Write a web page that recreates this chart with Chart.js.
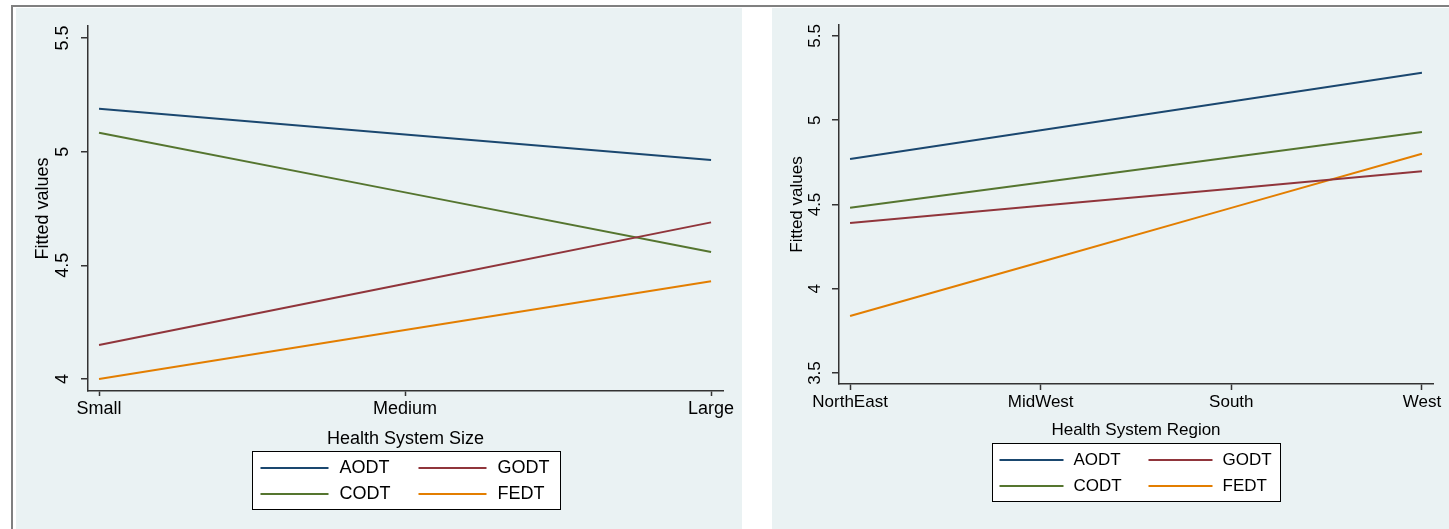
<!DOCTYPE html>
<html>
<head>
<meta charset="utf-8">
<title>Fitted values by health system size and region</title>
<script src="https://cdn.jsdelivr.net/npm/chart.js@4/dist/chart.umd.min.js"></script>
<style>
  html, body { margin: 0; padding: 0; background: #fff; }
  body { width: 1449px; height: 529px; position: relative; overflow: hidden; font-family: 'Liberation Sans', Arial, sans-serif; }
  .frame-top { position: absolute; left: 11px; top: 5px; width: 1438px; height: 2px; background: #808080; }
  .frame-left { position: absolute; left: 11px; top: 5px; width: 2px; height: 524px; background: #808080; }
  .panel { position: absolute; top: 8px; height: 521px; background: #eaf2f3; }
  #sizePanel { left: 16px; width: 726px; }
  #regionPanel { left: 772px; width: 677px; }
  canvas { display: block; }
</style>
</head>
<body>
<div class="frame-top"></div>
<div class="frame-left"></div>
<div class="panel" id="sizePanel"><canvas id="sizeChart" width="726" height="521"></canvas></div>
<div class="panel" id="regionPanel"><canvas id="regionChart" width="677" height="521"></canvas></div>

<script>
// series, in legend order (row by row)
const seriesNames = ['AODT', 'GODT', 'CODT', 'FEDT'];
const seriesColors = ['#1a476f', '#90353b', '#55752f', '#e37e00'];

// left panel: fitted values by system size
const sizeCategories = ['Small', 'Medium', 'Large'];
const sizeAODT = [5.189, 5.076, 4.963];
const sizeGODT = [4.149, 4.419, 4.689];
const sizeCODT = [5.083, 4.821, 4.559];
const sizeFEDT = [4.000, 4.215, 4.430];
const sizeYTicks = [4, 4.5, 5, 5.5];

// right panel: fitted values by system region
const regionCategories = ['NorthEast', 'MidWest', 'South', 'West'];
const regionAODT = [4.770, 4.941, 5.111, 5.282];
const regionGODT = [4.390, 4.492, 4.594, 4.697];
const regionCODT = [4.481, 4.631, 4.780, 4.930];
const regionFEDT = [3.838, 4.159, 4.480, 4.801];
const regionYTicks = [3.5, 4, 4.5, 5, 5.5];

const AXIS = '#333333';
const GRID = '#eaf2f3';

// stata-style boxed legend, two columns
const boxLegend = {
  id: 'boxLegend',
  afterDraw(chart, args, o) {
    const ctx = chart.ctx;
    const area = chart.chartArea;
    const left = Math.round((area.left + area.right) / 2 - o.width / 2) + 0.5;
    const top = Math.round(area.bottom + o.offsetTop) + 0.5;
    ctx.save();
    ctx.fillStyle = '#fff';
    ctx.fillRect(left, top, o.width, o.height);
    ctx.strokeStyle = '#000';
    ctx.lineWidth = 1;
    ctx.strokeRect(left, top, o.width, o.height);
    ctx.font = o.fontSize + "px 'Liberation Sans', Arial, sans-serif";
    ctx.textBaseline = 'middle';
    ctx.fillStyle = '#000';
    chart.data.datasets.forEach((ds, i) => {
      const col = i % 2;
      const row = Math.floor(i / 2);
      const x0 = left + o.pad + col * o.colStep;
      const y = Math.round(top + o.rows[row]);
      ctx.strokeStyle = ds.borderColor;
      ctx.lineWidth = 2;
      ctx.beginPath();
      ctx.moveTo(x0, y);
      ctx.lineTo(x0 + o.lineLen, y);
      ctx.stroke();
      ctx.fillText(ds.label, x0 + o.lineLen + o.gap, y);
    });
    ctx.restore();
  }
};

function makeDatasets(values) {
  return values.map((vals, i) => ({
    label: seriesNames[i],
    data: vals.map((v, k) => ({ x: k, y: v })),
    borderColor: seriesColors[i],
    borderWidth: 2,
    pointRadius: 0,
    fill: false,
    tension: 0
  }));
}

function buildChart(id, cfg) {
  const font = { family: "'Liberation Sans', Arial, sans-serif", size: cfg.fontSize };
  return new Chart(document.getElementById(id), {
    type: 'line',
    data: { datasets: makeDatasets(cfg.values) },
    plugins: [boxLegend],
    options: {
      responsive: false,
      animation: false,
      layout: { padding: { top: cfg.padTop, right: cfg.padRight, left: 0, bottom: 0 } },
      plugins: {
        legend: { display: false },
        tooltip: { enabled: false },
        boxLegend: cfg.legend
      },
      scales: {
        x: {
          type: 'linear',
          min: cfg.xMin,
          max: cfg.xMax,
          afterBuildTicks: s => { s.ticks = cfg.categories.map((c, i) => ({ value: i })); },
          afterFit: s => { s.height = cfg.xHeight; },
          grid: { drawOnChartArea: false, tickLength: cfg.xTickLen, tickColor: AXIS, tickWidth: 1.5 },
          border: { display: true, color: AXIS, width: 1.5 },
          ticks: {
            color: '#000',
            font: font,
            padding: 2,
            maxRotation: 0,
            minRotation: 0,
            callback: v => cfg.categories[v]
          },
          title: {
            display: true,
            text: cfg.xTitle,
            color: '#000',
            font: font,
            padding: { top: 0, bottom: cfg.xTitlePad }
          }
        },
        y: {
          type: 'linear',
          min: cfg.yMin,
          max: cfg.yMax,
          afterBuildTicks: s => { s.ticks = cfg.yTicks.map(v => ({ value: v })); },
          afterFit: s => { s.width = cfg.yWidth; },
          grid: { color: GRID, lineWidth: 1.5, tickLength: 7, tickColor: AXIS, tickWidth: 1.5 },
          border: { display: true, color: AXIS, width: 1.5 },
          ticks: {
            color: '#000',
            font: font,
            padding: cfg.yTickPad,
            minRotation: 90,
            maxRotation: 90,
            crossAlign: 'center',
            callback: v => String(v)
          },
          title: {
            display: true,
            text: 'Fitted values',
            color: '#000',
            font: font,
            padding: { top: cfg.yTitlePad, bottom: 0 }
          }
        }
      }
    }
  });
}

buildChart('sizeChart', {
  categories: sizeCategories,
  values: [sizeAODT, sizeGODT, sizeCODT, sizeFEDT],
  yTicks: sizeYTicks,
  xTitle: 'Health System Size',
  fontSize: 18,
  xMin: -0.036, xMax: 2.039,
  yMin: 3.947, yMax: 5.553,
  padTop: 18, padRight: 19,
  yWidth: 72, xHeight: 138,
  xTickLen: 5,
  yTickPad: 5.5, yTitlePad: 16,
  xTitlePad: 79,
  legend: {
    offsetTop: 60, width: 308, height: 58, rows: [16, 42],
    pad: 8, lineLen: 68, gap: 11, colStep: 158, fontSize: 18
  }
});

buildChart('regionChart', {
  categories: regionCategories,
  values: [regionAODT, regionGODT, regionCODT, regionFEDT],
  yTicks: regionYTicks,
  xTitle: 'Health System Region',
  fontSize: 17,
  xMin: -0.058, xMax: 3.058,
  yMin: 3.435, yMax: 5.565,
  padTop: 17, padRight: 16,
  yWidth: 67, xHeight: 145,
  xTickLen: 6,
  yTickPad: 5, yTitlePad: 15,
  xTitlePad: 88,
  legend: {
    offsetTop: 59, width: 288, height: 58, rows: [16, 42],
    pad: 7, lineLen: 64, gap: 10, colStep: 149, fontSize: 17
  }
});
</script>
</body>
</html>
